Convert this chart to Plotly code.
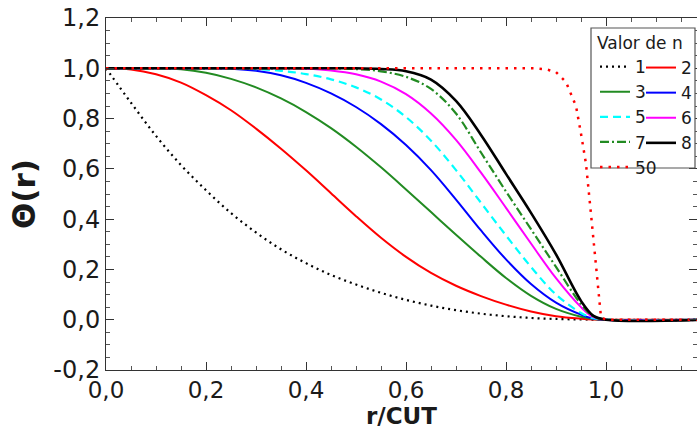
import plotly.graph_objects as go

# ---- data ----
x_vals = [0.00, 0.05, 0.10, 0.15, 0.20, 0.25, 0.30, 0.35, 0.40, 0.45, 0.50,
          0.55, 0.60, 0.65, 0.70, 0.75, 0.80, 0.85, 0.90, 0.95, 0.975, 1.00, 1.20]

theta_n1 = [1.000, 0.863, 0.731, 0.615, 0.515, 0.424, 0.347, 0.280, 0.225, 0.178, 0.140,
            0.107, 0.079, 0.056, 0.038, 0.024, 0.014, 0.007, 0.003, 0.001, 0.0005, 0.000, 0.000]
theta_n2 = [1.000, 0.995, 0.976, 0.943, 0.893, 0.833, 0.760, 0.680, 0.594, 0.503, 0.412,
            0.326, 0.250, 0.186, 0.135, 0.094, 0.060, 0.033, 0.014, 0.004, 0.001, 0.000, 0.000]
theta_n3 = [1.000, 1.000, 1.000, 0.996, 0.982, 0.958, 0.924, 0.880, 0.826, 0.762, 0.688,
            0.606, 0.518, 0.428, 0.338, 0.250, 0.166, 0.095, 0.043, 0.012, 0.003, 0.000, 0.000]
theta_n4 = [1.000, 1.000, 1.000, 1.000, 1.000, 0.998, 0.990, 0.972, 0.942, 0.900, 0.846,
            0.778, 0.695, 0.595, 0.478, 0.355, 0.240, 0.142, 0.068, 0.020, 0.004, 0.000, 0.000]
theta_n5 = [1.000, 1.000, 1.000, 1.000, 1.000, 1.000, 0.997, 0.990, 0.977, 0.956, 0.924,
            0.876, 0.806, 0.712, 0.595, 0.465, 0.335, 0.210, 0.100, 0.027, 0.006, 0.000, 0.000]
theta_n6 = [1.000, 1.000, 1.000, 1.000, 1.000, 1.000, 1.000, 1.000, 0.998, 0.991, 0.976,
            0.947, 0.897, 0.820, 0.715, 0.585, 0.445, 0.303, 0.165, 0.050, 0.010, 0.000, 0.000]
theta_n7 = [1.000, 1.000, 1.000, 1.000, 1.000, 1.000, 1.000, 1.000, 1.000, 1.000, 0.997,
            0.988, 0.966, 0.918, 0.820, 0.665, 0.510, 0.360, 0.210, 0.062, 0.012, 0.000, 0.000]
theta_n8 = [1.000, 1.000, 1.000, 1.000, 1.000, 1.000, 1.000, 1.000, 1.000, 1.000, 1.000,
            0.997, 0.988, 0.955, 0.870, 0.735, 0.580, 0.425, 0.260, 0.075, 0.015, 0.000, 0.000]

x_n50 = [0.00, 0.86, 0.88, 0.90, 0.92, 0.94, 0.95, 0.96, 0.97, 0.98, 0.99, 1.00, 1.20]
theta_n50 = [1.000, 1.000, 0.996, 0.985, 0.945, 0.850, 0.740, 0.620, 0.420, 0.220, 0.010, 0.000, 0.000]

x_tickvals = [0.0, 0.2, 0.4, 0.6, 0.8, 1.0]
x_ticktext = ["0,0", "0,2", "0,4", "0,6", "0,8", "1,0"]
y_tickvals = [-0.2, 0.0, 0.2, 0.4, 0.6, 0.8, 1.0, 1.2]
y_ticktext = ["-0,2", "0,0", "0,2", "0,4", "0,6", "0,8", "1,0", "1,2"]

legend_title = "Valor de n"
x_title = "r/CUT"
y_title = "Θ(r)"

# ---- styles ----
GREEN = "#228b22"
series = [
    ("1", x_vals, theta_n1, "#000000", "2px,4px", 2.2, "legend", "spline"),
    ("2", x_vals, theta_n2, "#ff0000", "solid", 2.0, "legend2", "spline"),
    ("3", x_vals, theta_n3, GREEN, "solid", 2.0, "legend", "spline"),
    ("4", x_vals, theta_n4, "#0000ff", "solid", 2.0, "legend2", "spline"),
    ("5", x_vals, theta_n5, "#00ffff", "8px,5px", 2.2, "legend", "spline"),
    ("6", x_vals, theta_n6, "#ff00ff", "solid", 2.0, "legend2", "spline"),
    ("7", x_vals, theta_n7, GREEN, "9px,3px,2px,3px", 2.2, "legend", "spline"),
    ("8", x_vals, theta_n8, "#000000", "solid", 2.6, "legend2", "spline"),
    ("50", x_n50, theta_n50, "#ff0000", "2.5px,6px", 2.5, "legend", "linear"),
]

fig = go.Figure()
for name, xs, ys, color, dash, width, leg, shape in series:
    line = dict(color=color, dash=dash, width=width, shape=shape)
    if shape == "spline":
        line["smoothing"] = 1.0
    fig.add_trace(go.Scatter(x=xs, y=ys, mode="lines", name=name, legend=leg, line=line))

W, H = 697, 430
L, R, T, B = 106, 0, 18, 60
pw, ph = W - L - R, H - T - B


def px2x(px):
    return (px - L) / pw


def py2y(py):
    return (H - B - py) / ph


def axis_style(tick_size):
    return dict(
        showline=True, linecolor="#333333", linewidth=1, mirror="ticks",
        ticks="inside", ticklen=8, tickcolor="#333333", tickwidth=1,
        showgrid=False, zeroline=False,
        tickfont=dict(family="DejaVu Sans", size=tick_size, color="#1a1a1a"),
        minor=dict(ticks="inside", ticklen=4, tickcolor="#555555", tickmode="linear",
                   tick0=0, dtick=0.05, showgrid=False),
    )


fig.update_layout(
    width=W, height=H,
    margin=dict(l=L, r=R, t=T, b=B, pad=0),
    paper_bgcolor="white", plot_bgcolor="white",
    font=dict(family="DejaVu Sans", color="#1a1a1a"),
    xaxis=dict(range=[0, (W - L) / 500.0], tickmode="array", tickvals=x_tickvals,
               ticktext=x_ticktext, ticklabelstandoff=-1,
               **axis_style(23)),
    yaxis=dict(range=[-0.2, 1.2], tickmode="array", tickvals=y_tickvals,
               ticktext=y_ticktext,
               title=dict(text=y_title, font=dict(size=31, family="DejaVu Sans", weight="bold"),
                          standoff=8),
               **axis_style(24)),
    annotations=[dict(text=x_title, xref="paper", yref="paper", x=0.5, y=py2y(430),
                      xanchor="center", yanchor="bottom", showarrow=False, borderpad=0,
                      font=dict(size=23, family="DejaVu Sans", weight="bold", color="#1a1a1a"))],
    showlegend=True,
    legend=dict(
        x=px2x(595), y=py2y(27), xanchor="left", yanchor="top",
        bgcolor="rgba(0,0,0,0)", borderwidth=0,
        title=dict(text=legend_title, font=dict(size=17)),
        font=dict(size=17, family="DejaVu Sans"),
        itemwidth=30, tracegroupgap=0,
    ),
    legend2=dict(
        x=px2x(641), y=py2y(50), xanchor="left", yanchor="top",
        bgcolor="rgba(0,0,0,0)", borderwidth=0,
        font=dict(size=17, family="DejaVu Sans"),
        itemwidth=30, tracegroupgap=0,
    ),
    shapes=[dict(type="rect", xref="paper", yref="paper",
                 x0=px2x(591), x1=px2x(695), y0=py2y(168), y1=py2y(28),
                 line=dict(color="#555555", width=1.2), fillcolor="white", layer="above")],
)

fig.write_html("out.html")
